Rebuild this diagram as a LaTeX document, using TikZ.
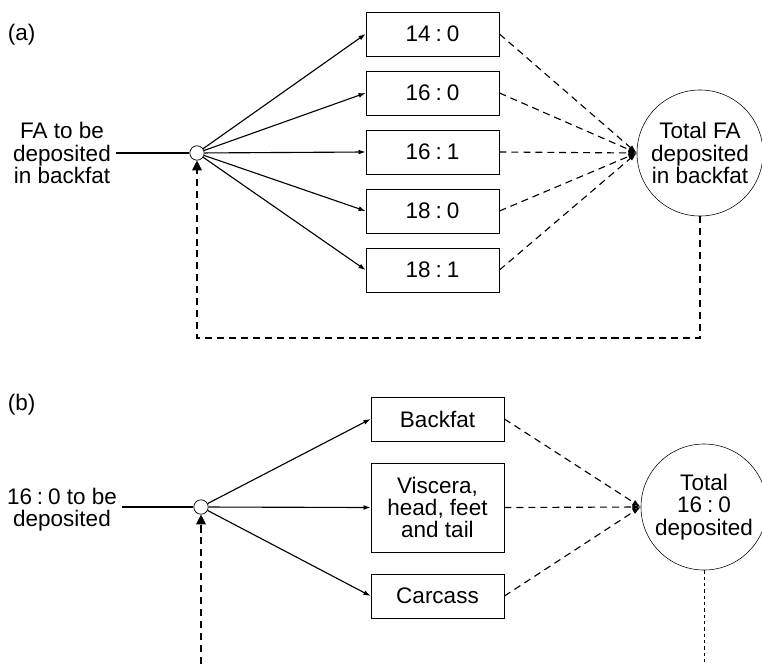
\documentclass[tikz,border=0pt]{standalone}
\usepackage{fontspec}
\setmainfont{Liberation Sans}
\usetikzlibrary{arrows.meta}
\newcommand{\ratio}[2]{#1\hspace{0.22em}:\hspace{0.22em}#2}
\tikzset{
  fabox/.style={draw, line width=0.6pt, minimum width=3.325cm, minimum height=1.1cm, align=center},
  hub/.style={circle, draw, fill=white, line width=0.5pt, minimum size=0.36cm, inner sep=0pt},
  pool/.style={circle, draw, line width=0.4pt, minimum size=3.15cm, inner sep=0pt, align=center},
  feed/.style={line width=0.8pt, -{Latex[length=5pt,width=3.5pt]}},
  collect/.style={line width=0.8pt, dash pattern=on 5pt off 3.5pt, -{Latex[length=6pt,width=4pt]}},
  loopback/.style={line width=0.8pt, dash pattern=on 5pt off 3.5pt, -{Triangle[length=7pt,width=7pt]}},
}
\begin{document}
\begin{tikzpicture}[x=0.025cm, y=-0.025cm, font=\fontsize{16}{15.8}\selectfont]
    \useasboundingbox (0,0) rectangle (762,664);
    % Panel (a): fatty acids in backfat
    \node[anchor=west] (taga) at (3,35) {(a)};
    \node[align=center] (ina) at (62,153) {FA to be\\deposited\\in backfat};
    \node[hub] (splita) at (197,153) {};
    \foreach \n/\y/\c/\d in {1/34/14/0, 2/93/16/0, 3/152/16/1, 4/211/18/0, 5/270/18/1}
      \node[fabox] (fa\n) at (432.5,\y) {\ratio{\c}{\d}};
    \node[pool] (tota) at (700,153) {Total FA\\deposited\\in backfat};
    \draw[line width=0.8pt] (ina) -- (splita);
    \foreach \n in {1,...,5} {
      \draw[feed] (splita) -- (fa\n.west);
      \draw[collect] (fa\n.east) -- (tota.west);
    }
    % Feedback loop
    \coordinate (lowa) at (0,338);
    \draw[loopback] (tota.south) -- (tota.south |- lowa) -| (splita.south);
    % Panel (b): 16:0 in body parts
    \node[anchor=west] (tagb) at (3,405) {(b)};
    \node[align=center] (inb) at (62,510) {\ratio{16}{0} to be\\deposited};
    \node[hub] (splitb) at (201,507) {};
    \node[fabox] (back) at (437.5,419) {Backfat};
    \node[fabox, minimum height=2.225cm] (visc) at (437.5,507.5) {Viscera,\\head, feet\\and tail};
    \node[fabox] (carc) at (437.5,596) {Carcass};
    \node[pool] (totb) at (704,507) {Total\\\ratio{16}{0}\\deposited};
    \draw[line width=0.8pt] (inb.east |- splitb) -- (splitb);
    \foreach \b in {back,visc,carc} {
      \draw[feed] (splitb) -- (\b.west);
      \draw[collect] (\b.east) -- (totb.west);
    }
    % Open ends at the bottom
    \coordinate (lowb) at (0,664);
    \draw[line width=0.6pt, dash pattern=on 2.5pt off 2pt] (totb.south) -- (totb.south |- lowb);
    \draw[loopback] (splitb.south |- lowb) -- (splitb.south);
\end{tikzpicture}
\end{document}
